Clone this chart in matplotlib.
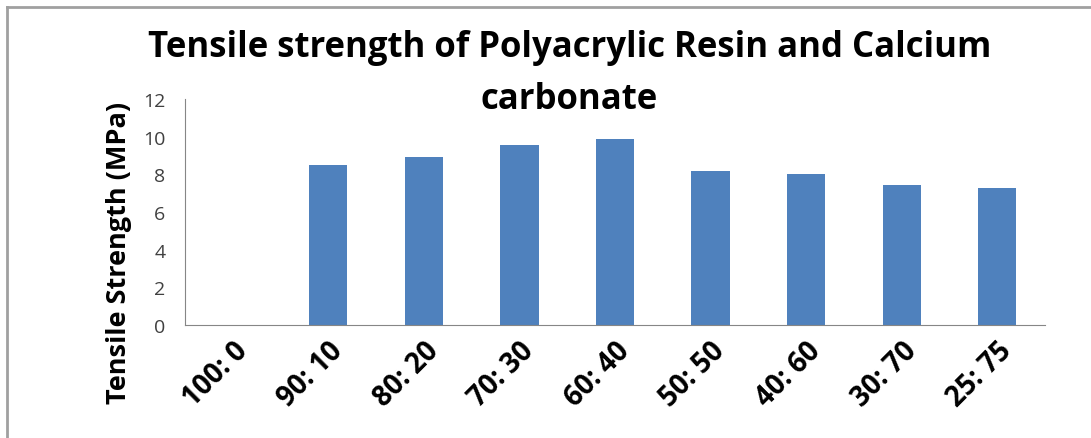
import numpy as np
from matplotlib import pyplot as plt
from matplotlib.lines import Line2D

ratios = ["100: 0", "90: 10", "80: 20", "70: 30", "60: 40",
          "50: 50", "40: 60", "30: 70", "25: 75"]
strength = [0, 8.5, 8.9, 9.55, 9.9, 8.2, 8.0, 7.45, 7.25]
yticks = [0, 2, 4, 6, 8, 10, 12]

plt.rcParams['font.family'] = ['Open Sans', 'DejaVu Sans']

fig = plt.figure(figsize=(10.91, 4.39), dpi=100)
ax = fig.add_axes([0.1696, 0.2574, 0.7882, 0.5148])

xx = np.arange(len(ratios))
ax.bar(xx, strength, width=0.4, color='#4f81bd')

ax.set_xlim(-0.5, len(ratios) - 0.5)
ax.set_ylim(0, 12)
ax.set_yticks(yticks)
ax.set_yticklabels([str(v) for v in yticks], fontsize=14, color='#404040')
ax.set_xticks(xx)
ax.set_xticklabels(ratios, rotation=45, ha='right', va='top',
                   rotation_mode='anchor', fontsize=20, fontweight='bold')
ax.tick_params(axis='y', length=0, pad=14)
ax.tick_params(axis='x', length=0, pad=8)

for s in ['top', 'right']:
    ax.spines[s].set_visible(False)
ax.spines['left'].set_color('#868686')
ax.spines['bottom'].set_color('#868686')

ax.set_ylabel('Tensile Strength (MPa)', fontsize=19.5, fontweight='bold')
ax.yaxis.set_label_coords(-0.062, 0.325)

fig.text(0.522, 0.89, 'Tensile strength of Polyacrylic Resin and Calcium',
         ha='center', va='center', fontsize=25, fontweight='bold')
fig.text(0.522, 0.772, 'carbonate',
         ha='center', va='center', fontsize=25, fontweight='bold')

# outer chart frame
fig.add_artist(Line2D([0.0068, 0.0068], [0, 0.982], color='#a0a0a0', lw=2,
                      transform=fig.transFigure))
fig.add_artist(Line2D([0.0068, 1], [0.982, 0.982], color='#a0a0a0', lw=2,
                      transform=fig.transFigure))

fig.savefig('out.png')
